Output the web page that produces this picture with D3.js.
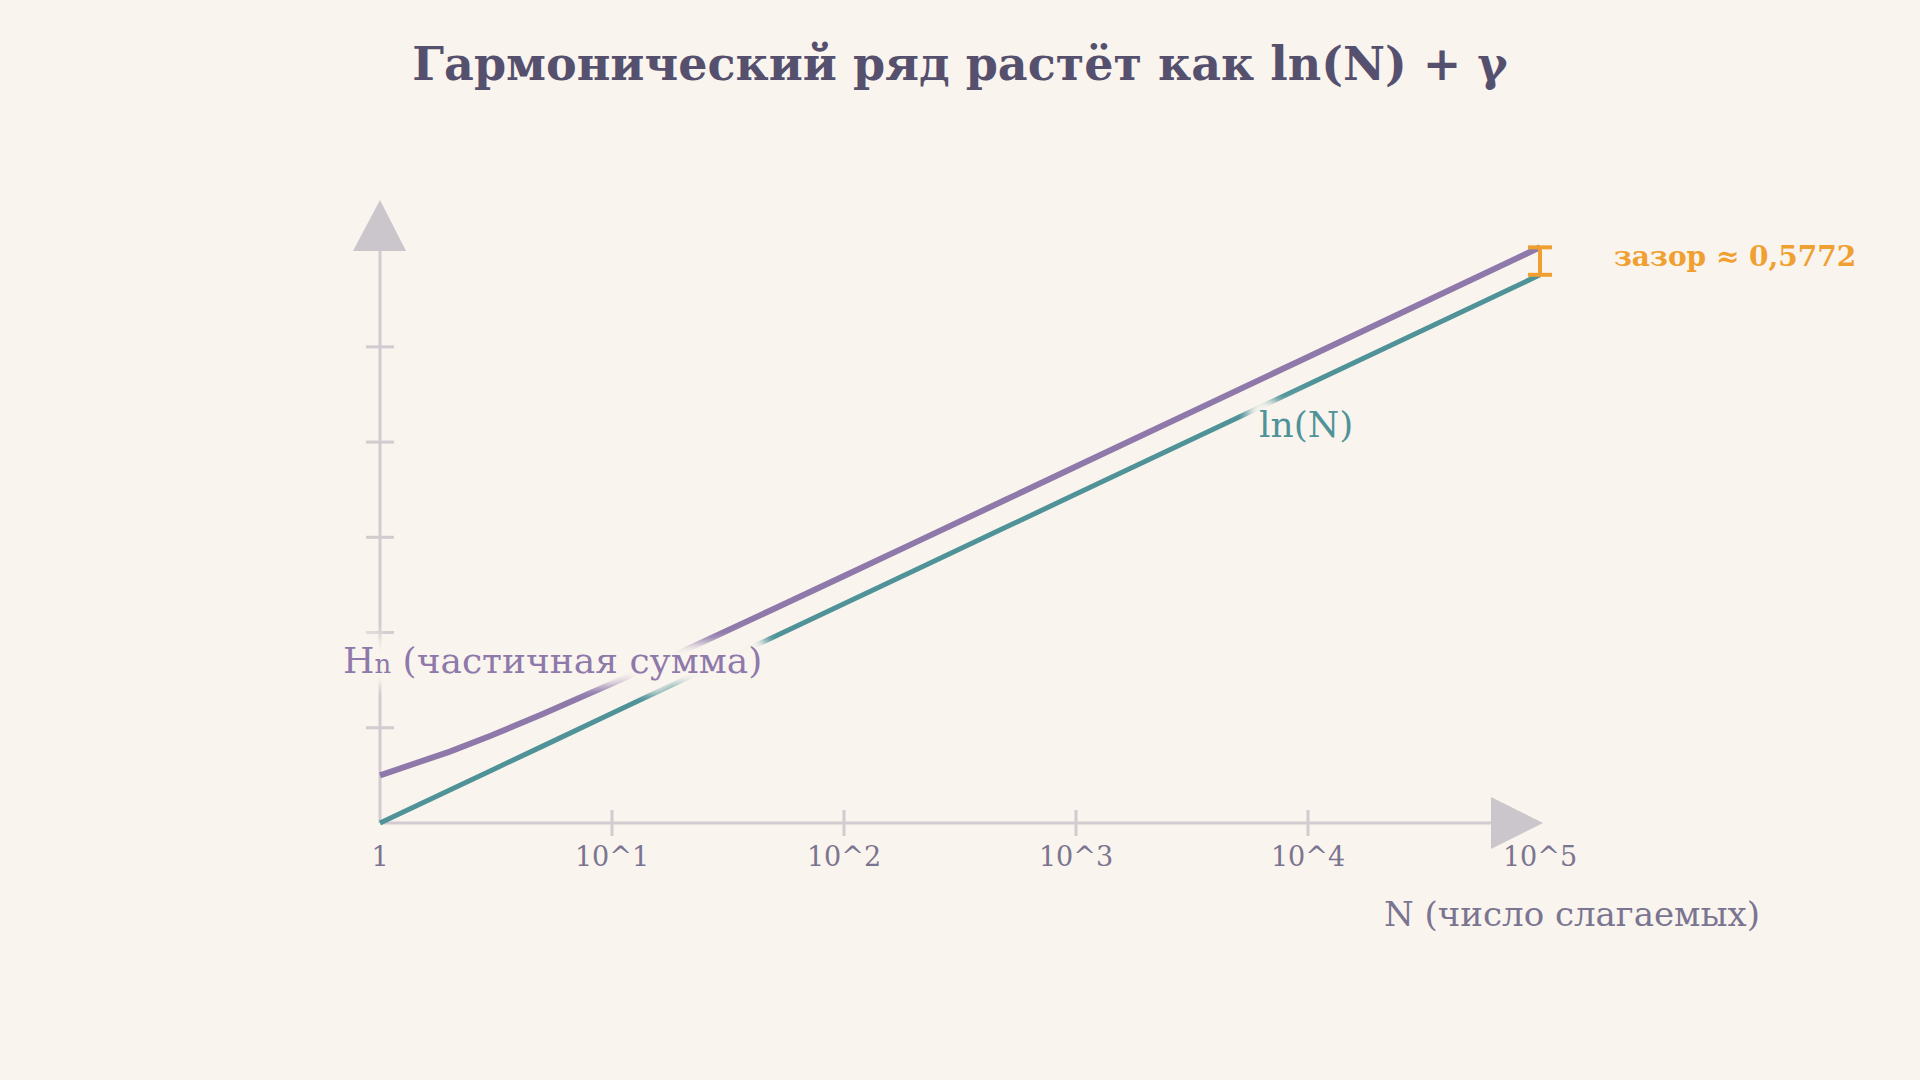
<!DOCTYPE html><html><head><meta charset="utf-8">
<script src="https://cdn.jsdelivr.net/npm/d3@7"></script>
<style>body{margin:0;background:#faf4ee}</style></head><body>
<svg id="c" width="1920" height="1080"></svg>
<script>
const nValues=[1,2,3,5,10,20,50,100,200,500,1000,10000,100000];
const hValues=[1,1.5,1.8333,2.2833,2.929,3.5977,4.4992,5.1874,5.878,6.7928,7.4855,9.7876,12.0901];
const lnValues=[0,0.6931,1.0986,1.6094,2.3026,2.9957,3.912,4.6052,5.2983,6.2146,6.9078,9.2103,11.5129];
const xTicks=[1,10,100,1000,10000,100000];
const xTickLabels=["1","10^1","10^2","10^3","10^4","10^5"];
const yTicks=[2,4,6,8,10];
const bg="#faf4ee",purple="#8e79aa",teal="#4f9399",orange="#f0a030",axisC="#d0ccd0",txt="#7a7590";
const svg=d3.select("#c");
svg.append("rect").attr("width",1920).attr("height",1080).attr("fill",bg);
const defs=svg.append("defs");
defs.append("filter").attr("id","blur").attr("x","-20%").attr("y","-50%").attr("width","140%").attr("height","200%")
 .append("feGaussianBlur").attr("stdDeviation",6);
const x=d3.scaleLog().domain([1,1e5]).range([380,1540]);
const y=d3.scaleLinear().domain([0,13]).range([823,204]);
const font="DejaVu Serif";
svg.append("text").attr("x",960).attr("y",80).attr("text-anchor","middle").attr("font-family",font)
 .attr("font-weight","bold").attr("font-size",46).attr("fill","#56506f").text("Гармонический ряд растёт как ln(N) + γ");
// axes
const ax=svg.append("g").attr("stroke",axisC).attr("stroke-width",3);
ax.append("line").attr("x1",380).attr("x2",1500).attr("y1",823).attr("y2",823);
ax.append("line").attr("x1",380).attr("x2",380).attr("y1",823).attr("y2",245);
xTicks.slice(1,5).forEach(t=>ax.append("line").attr("x1",x(t)).attr("x2",x(t)).attr("y1",810).attr("y2",836));
yTicks.forEach(t=>ax.append("line").attr("x1",366).attr("x2",394).attr("y1",y(t)).attr("y2",y(t)));
svg.append("path").attr("d","M1491,797L1543,823L1491,849Z").attr("fill","#cbc6cc");
svg.append("path").attr("d","M353,251L380,200L406,251Z").attr("fill","#cbc6cc");
xTicks.forEach((t,i)=>svg.append("text").attr("x",x(t)).attr("y",866).attr("text-anchor","middle")
 .attr("font-family",font).attr("font-size",27).attr("fill",txt).text(xTickLabels[i]));
svg.append("text").attr("x",1760).attr("y",926).attr("text-anchor","end").attr("font-family",font)
 .attr("font-size",34).attr("fill",txt).text("N (число слагаемых)");
const line=vals=>d3.line().x((d,i)=>x(nValues[i])).y(d=>y(d))(vals);
svg.append("path").attr("d",line(lnValues)).attr("fill","none").attr("stroke",teal).attr("stroke-width",5);
svg.append("path").attr("d",line(hValues)).attr("fill","none").attr("stroke",purple).attr("stroke-width",6);
// gap marker
const g=svg.append("g").attr("stroke",orange).attr("stroke-width",4);
const y1=y(hValues[hValues.length-1]),y2=y(lnValues[lnValues.length-1]);
g.append("line").attr("x1",1540).attr("x2",1540).attr("y1",y1).attr("y2",y2);
g.append("line").attr("x1",1528).attr("x2",1552).attr("y1",y1).attr("y2",y1);
g.append("line").attr("x1",1528).attr("x2",1552).attr("y1",y2).attr("y2",y2);
svg.append("text").attr("x",1614).attr("y",266).attr("font-family",font).attr("font-weight","bold")
 .attr("font-size",28).attr("fill",orange).text("зазор ≈ 0,5772");
function label(xp,yp,color,build){
 [true,false].forEach(h=>{
  const t=svg.append("text").attr("x",xp).attr("y",yp).attr("font-family",font).attr("font-size",36);
  build(t);
  if(h) t.attr("fill",bg).attr("stroke",bg).attr("stroke-width",26).attr("stroke-linejoin","round").attr("filter","url(#blur)");
  else t.attr("fill",color);
 });
}
label(343,673,purple,t=>{t.append("tspan").text("H");t.append("tspan").attr("font-size",26).text("n");t.append("tspan").text(" (частичная сумма)");});
label(1259,437,teal,t=>t.text("ln(N)"));
</script></body></html>
